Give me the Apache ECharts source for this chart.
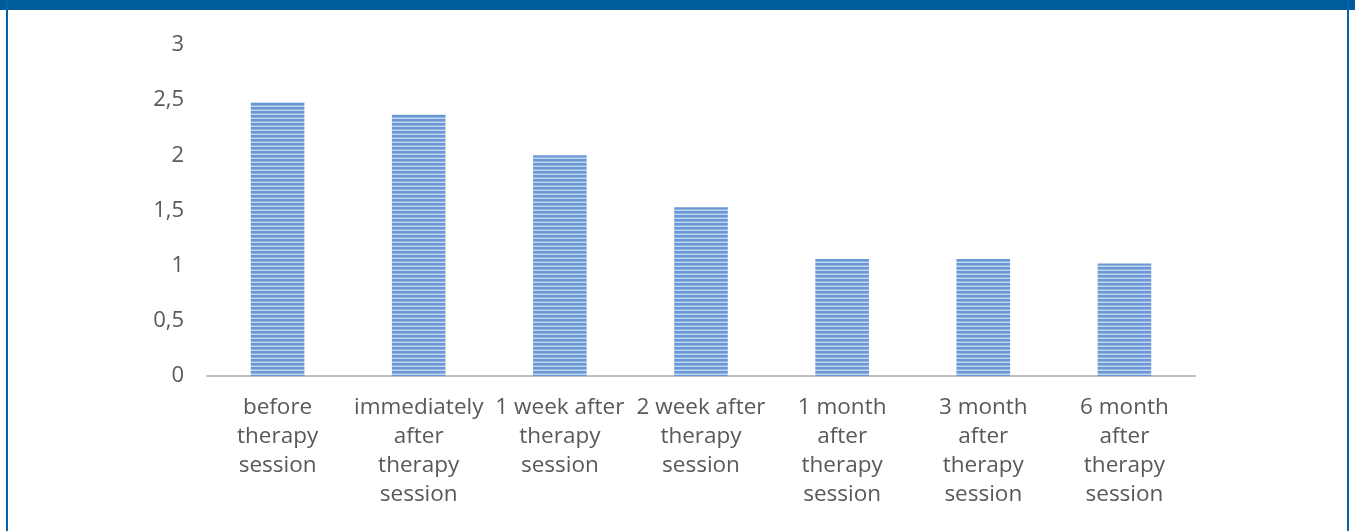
<!DOCTYPE html>
<html><head><meta charset="utf-8">
<script src="https://cdn.jsdelivr.net/npm/echarts@6/dist/echarts.min.js"></script>
<style>html,body{margin:0;padding:0;background:#fff}#c{width:1355px;height:531px}</style>
</head><body><div id="c"></div>
<script>
const categories = ["before\ntherapy\nsession","immediately\nafter\ntherapy\nsession","1 week after\ntherapy\nsession","2 week after\ntherapy\nsession","1 month\nafter\ntherapy\nsession","3 month\nafter\ntherapy\nsession","6 month\nafter\ntherapy\nsession"];
const values = [2.48, 2.37, 2.0, 1.53, 1.06, 1.06, 1.02];
const yTicks = ["0","0,5","1","1,5","2","2,5","3"];

const pc = document.createElement('canvas');
pc.width = 8; pc.height = 4;
const g = pc.getContext('2d');
g.fillStyle = '#6a98d4'; g.fillRect(0,0,8,4);
g.fillStyle = '#c2d6f0'; g.fillRect(0,2,8,1);
g.fillStyle = '#92b5e3'; g.fillRect(0,1,8,1);

const chart = echarts.init(document.getElementById('c'), null, {renderer:'canvas'});
chart.setOption({
  animation:false,
  grid:{left:207,right:160,top:45,bottom:155,containLabel:false},
  xAxis:{type:'category',data:categories,
    axisLine:{lineStyle:{color:'#bfbfbf',width:2}},axisTick:{show:false},
    axisLabel:{interval:0,color:'#595959',fontFamily:'Open Sans',fontSize:22.5,lineHeight:29,margin:17}},
  yAxis:{type:'value',min:0,max:3,interval:0.5,
    axisLine:{show:false},axisTick:{show:false},splitLine:{show:false},
    axisLabel:{color:'#595959',fontFamily:'Open Sans',fontSize:22,margin:23,
      formatter:function(v){return yTicks[Math.round(v*2)];}}},
  series:[{type:'bar',data:values,barWidth:'38%',
    itemStyle:{color:{image:pc,repeat:'repeat'}}}],
  graphic:[
    {type:'rect',shape:{x:0,y:0,width:1355,height:10},style:{fill:'#005c9c'},silent:true},
    {type:'rect',shape:{x:6,y:0,width:2,height:531},style:{fill:'#0a62a6'},silent:true},
    {type:'rect',shape:{x:1347,y:0,width:2,height:531},style:{fill:'#0a62a6'},silent:true}
  ]
});
</script></body></html>
